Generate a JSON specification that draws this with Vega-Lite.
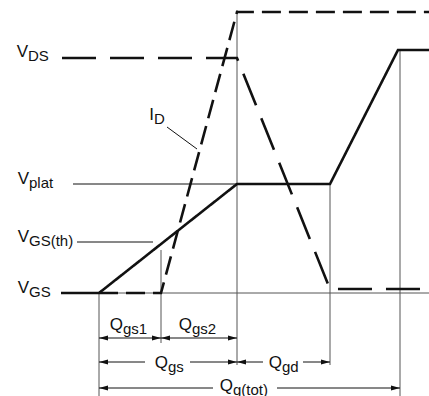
{
  "$schema": "https://vega.github.io/schema/vega-lite/v6.json",
  "width": 429,
  "height": 396,
  "padding": 0,
  "autosize": {"type": "none"},
  "background": "white",
  "config": {"view": {"stroke": null}},
  "datasets": {
    "curves": [
      {"s": "VGS", "i": 0, "q": -3.8, "v": 0},
      {"s": "VGS", "i": 1, "q": 0, "v": 0},
      {"s": "VGS", "i": 2, "q": 13.8, "v": 10.9},
      {"s": "VGS", "i": 3, "q": 23.1, "v": 10.9},
      {"s": "VGS", "i": 4, "q": 29.9, "v": 24.3},
      {"s": "VGS", "i": 5, "q": 33, "v": 24.3},
      {"s": "VDS", "i": 0, "q": -3.7, "v": 23.5},
      {"s": "VDS", "i": 1, "q": 13.8, "v": 23.5},
      {"s": "VDS", "i": 2, "q": 23.1, "v": 0.4},
      {"s": "VDS", "i": 3, "q": 33, "v": 0.4},
      {"s": "ID", "i": 0, "q": 0, "v": 0},
      {"s": "ID", "i": 1, "q": 6.2, "v": 0},
      {"s": "ID", "i": 2, "q": 13.8, "v": 28.1},
      {"s": "ID", "i": 3, "q": 33, "v": 28.1}
    ],
    "guides": [
      {"g": "base", "k": "grid", "q1": -3.8, "v1": 0, "q2": 33, "v2": 0},
      {"g": "plat", "k": "ref", "q1": -2.6, "v1": 10.9, "q2": 13.8, "v2": 10.9},
      {"g": "vth", "k": "ref", "q1": -2.2, "v1": 5.1, "q2": 5.4, "v2": 5.1},
      {"g": "v0", "k": "grid", "q1": 0, "v1": 0, "q2": 0, "v2": -10.3},
      {"g": "v1", "k": "grid", "q1": 6.2, "v1": 4.3, "q2": 6.2, "v2": -5.0},
      {"g": "v2", "k": "grid", "q1": 13.8, "v1": 28.3, "q2": 13.8, "v2": -7.2},
      {"g": "v3", "k": "grid", "q1": 23.1, "v1": 10.9, "q2": 23.1, "v2": -7.2},
      {"g": "v4", "k": "grid", "q1": 30.1, "v1": 24.3, "q2": 30.1, "v2": -10.3},
      {"g": "leader", "k": "ref", "q1": 6.8, "v1": 16.6, "q2": 9.8, "v2": 14.4}
    ],
    "dims": [
      {"d": "Qgs1", "q1": 0, "q2": 6.2, "v": -4.5},
      {"d": "Qgs2", "q1": 6.2, "q2": 13.8, "v": -4.5},
      {"d": "Qgs", "q1": 0, "q2": 13.8, "v": -6.9},
      {"d": "Qgd", "q1": 13.8, "q2": 23.1, "v": -6.9},
      {"d": "Qgtot", "q1": 0, "q2": 30.1, "v": -9.5}
    ],
    "dimlines": [
      {"d": "Qgs1", "q1": 0, "q2": 6.2, "v": -4.5},
      {"d": "Qgs2", "q1": 6.2, "q2": 13.8, "v": -4.5},
      {"d": "Qgs", "q1": 0, "q2": 4.6, "v": -6.9},
      {"d": "Qgs", "q1": 9.1, "q2": 13.8, "v": -6.9},
      {"d": "Qgd", "q1": 13.8, "q2": 16.4, "v": -6.9},
      {"d": "Qgd", "q1": 20.4, "q2": 23.1, "v": -6.9},
      {"d": "Qgtot", "q1": 0, "q2": 11.4, "v": -9.5},
      {"d": "Qgtot", "q1": 17.8, "q2": 30.1, "v": -9.5}
    ],
    "labels": [
      {"main": "V", "sub": "DS", "q": -7.1, "v": 23.6},
      {"main": "V", "sub": "plat", "q": -7.0, "v": 10.9},
      {"main": "V", "sub": "GS(th)", "q": -7.0, "v": 5.1},
      {"main": "V", "sub": "GS", "q": -7.0, "v": 0},
      {"main": "I", "sub": "D", "q": 5.5, "v": 17.3},
      {"main": "Q", "sub": "gs1", "q": 2.4, "v": -3.7},
      {"main": "Q", "sub": "gs2", "q": 9.3, "v": -3.7},
      {"main": "Q", "sub": "gs", "q": 6.9, "v": -7.5},
      {"main": "Q", "sub": "gd", "q": 18.3, "v": -7.5},
      {"main": "Q", "sub": "g(tot)", "q": 13.4, "v": -9.75}
    ]
  },
  "layer": [
    {
      "data": {"name": "guides"},
      "mark": {"type": "rule", "strokeWidth": 1},
      "encoding": {
        "x": {"field": "q1", "type": "quantitative", "scale": {"domain": [-9.9, 33.0], "nice": false, "zero": false}, "axis": null},
        "y": {"field": "v1", "type": "quantitative", "scale": {"domain": [-10.3, 29.3], "nice": false, "zero": false}, "axis": null},
        "x2": {"field": "q2"},
        "y2": {"field": "v2"},
        "color": {"field": "k", "type": "nominal", "scale": {"domain": ["grid", "ref"], "range": ["#555555", "#111111"]}, "legend": null}
      }
    },
    {
      "data": {"name": "dimlines"},
      "mark": {"type": "rule", "strokeWidth": 1, "color": "#111111"},
      "encoding": {
        "x": {"field": "q1", "type": "quantitative"},
        "x2": {"field": "q2"},
        "y": {"field": "v", "type": "quantitative"}
      }
    },
    {
      "data": {"name": "dims"},
      "mark": {"type": "point", "shape": "M0,0L-2,-0.55L-2,0.55Z", "filled": true, "size": 81, "color": "#111111", "opacity": 1, "strokeWidth": 0},
      "encoding": {
        "x": {"field": "q2", "type": "quantitative"},
        "y": {"field": "v", "type": "quantitative"}
      }
    },
    {
      "data": {"name": "dims"},
      "mark": {"type": "point", "shape": "M0,0L2,-0.55L2,0.55Z", "filled": true, "size": 81, "color": "#111111", "opacity": 1, "strokeWidth": 0},
      "encoding": {
        "x": {"field": "q1", "type": "quantitative"},
        "y": {"field": "v", "type": "quantitative"}
      }
    },
    {
      "data": {"name": "curves"},
      "mark": {"type": "line", "strokeWidth": 2.6, "color": "#111111", "strokeCap": "butt", "strokeJoin": "miter"},
      "encoding": {
        "x": {"field": "q", "type": "quantitative"},
        "y": {"field": "v", "type": "quantitative"},
        "detail": {"field": "s", "type": "nominal"},
        "order": {"field": "i", "type": "quantitative"},
        "strokeDash": {"field": "s", "type": "nominal", "scale": {"domain": ["VGS", "VDS", "ID"], "range": [[1, 0], [34, 14], [19, 8]]}, "legend": null}
      }
    },
    {
      "data": {"name": "labels"},
      "mark": {"type": "text", "align": "right", "baseline": "alphabetic", "font": "Liberation Sans", "fontSize": 17, "color": "#111111"},
      "encoding": {
        "x": {"field": "q", "type": "quantitative"},
        "y": {"field": "v", "type": "quantitative"},
        "text": {"field": "main"}
      }
    },
    {
      "data": {"name": "labels"},
      "mark": {"type": "text", "align": "left", "baseline": "alphabetic", "dy": 4, "font": "Liberation Sans", "fontSize": 15, "color": "#111111"},
      "encoding": {
        "x": {"field": "q", "type": "quantitative"},
        "y": {"field": "v", "type": "quantitative"},
        "text": {"field": "sub"}
      }
    }
  ]
}
